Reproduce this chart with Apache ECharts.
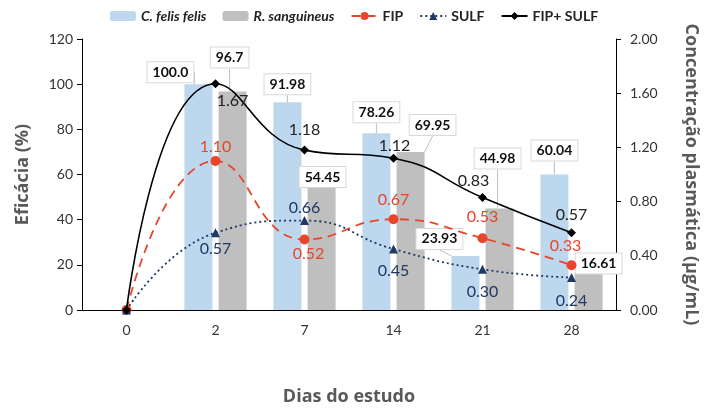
<!DOCTYPE html>
<html>
<head>
<meta charset="utf-8">
<script src="https://cdn.jsdelivr.net/npm/echarts@6/dist/echarts.min.js"></script>
<style>
  html, body { margin: 0; padding: 0; background: #fff; }
  #main { width: 708px; height: 411px; }
</style>
</head>
<body>
<div id="main"></div>
<script>
// data
var days = ["0", "2", "7", "14", "21", "28"];
var felis = [null, 100.0, 91.98, 78.26, 23.93, 60.04];
var sanguineus = [null, 96.7, 54.45, 69.95, 44.98, 16.61];
var fip = [0, 1.10, 0.52, 0.67, 0.53, 0.33];
var sulf = [0, 0.57, 0.66, 0.45, 0.30, 0.24];
var fipSulf = [0, 1.67, 1.18, 1.12, 0.83, 0.57];

// label nudges (dx, dy), layout only
var felisShift = [[0, 0], [-28, 3], [0, -3], [0, -6], [-26, -2], [0, -9]];
var sangShift = [[0, 0], [-3, -19], [1, 5], [22, -12], [-2, -35], [10, 6]];
var fipOff = [null, [0, -14], [4, 14], [0, -19], [0, -21], [-6, -19]];
var sulfOff = [null, [0, 16], [0, -13], [0, 22], [0, 22], [0, 23]];
var sumOff = [null, [17, 17], [0, -20], [1, -12], [-9, -17], [0, -18]];

var FONT = "Lato, 'Open Sans', sans-serif";
var TITLE_FONT = "'Open Sans', sans-serif";
var RED = "#e8452b";
var NAVY = "#1f3864";

function lineData(vals, offs) {
  return vals.map(function (v, i) {
    if (!offs[i]) return { value: v, label: { show: false } };
    return { value: v, label: { offset: offs[i] } };
  });
}

function barLabel() {
  return {
    show: true,
    position: "top",
    distance: 5,
    formatter: function (p) {
      var v = p.value;
      return Number.isInteger(v) ? v.toFixed(1) : String(v);
    },
    fontFamily: FONT,
    fontSize: 14,
    fontWeight: "bold",
    color: "#111",
    backgroundColor: "#fff",
    borderColor: "#d9d9d9",
    borderWidth: 1,
    padding: [3, 5]
  };
}

function lineLabel(color) {
  return {
    show: true,
    position: "inside",
    formatter: function (p) { return p.value.toFixed(2); },
    fontFamily: FONT,
    fontSize: 16,
    color: color
  };
}

var nameStyle = { fontFamily: TITLE_FONT, fontSize: 18, fontWeight: "bold", color: "#595959" };

var chart = echarts.init(document.getElementById("main"));
var option = {
  textStyle: { fontFamily: FONT },
  legend: {
    top: 4,
    left: "center",
    itemWidth: 26,
    itemHeight: 10,
    itemGap: 16,
    textStyle: { fontFamily: FONT, fontSize: 14, fontWeight: "bold", color: "#222" },
    data: [
      { name: "C. felis felis", textStyle: { fontStyle: "italic" } },
      { name: "R. sanguineus", textStyle: { fontStyle: "italic" } },
      "FIP", "SULF", "FIP+ SULF"
    ]
  },
  grid: { left: 82, right: 83, top: 39, bottom: 99 },
  xAxis: {
    type: "category",
    data: days,
    name: "Dias do estudo",
    nameLocation: "middle",
    nameGap: 78,
    nameTextStyle: nameStyle,
    axisLine: { lineStyle: { color: "#000", width: 1 } },
    axisTick: { alignWithLabel: true, length: 5, lineStyle: { color: "#000" } },
    axisLabel: { fontSize: 14, color: "#333", margin: 13 }
  },
  yAxis: [
    {
      type: "value",
      min: 0, max: 120, interval: 20,
      name: "Eficácia (%)",
      nameLocation: "middle",
      nameGap: 50,
      nameTextStyle: nameStyle,
      splitLine: { show: false },
      axisLine: { show: true, lineStyle: { color: "#000" } },
      axisTick: { show: true, length: 5, lineStyle: { color: "#000" } },
      axisLabel: { fontSize: 14, color: "#333", margin: 9 }
    },
    {
      type: "value",
      min: 0, max: 2, interval: 0.4,
      name: "Concentração plasmática (µg/mL)",
      nameLocation: "middle",
      nameGap: 66,
      nameRotate: -90,
      nameTextStyle: nameStyle,
      splitLine: { show: false },
      axisLine: { show: true, lineStyle: { color: "#000" } },
      axisTick: { show: true, length: 5, lineStyle: { color: "#000" } },
      axisLabel: {
        fontSize: 14, color: "#333", margin: 14,
        formatter: function (v) { return v.toFixed(2); }
      }
    }
  ],
  series: [
    {
      name: "C. felis felis",
      type: "bar",
      barWidth: 28,
      barGap: "22%",
      itemStyle: { color: "#bdd7ee" },
      data: felis,
      label: barLabel(),
      labelLine: { show: true, lineStyle: { color: "#bfbfbf", width: 1 } },
      labelLayout: function (p) {
        var s = felisShift[p.dataIndex];
        return { dx: s[0], dy: s[1] };
      },
      z: 2
    },
    {
      name: "R. sanguineus",
      type: "bar",
      barWidth: 28,
      itemStyle: { color: "#bfbfbf" },
      data: sanguineus,
      label: barLabel(),
      labelLine: { show: true, lineStyle: { color: "#bfbfbf", width: 1 } },
      labelLayout: function (p) {
        var s = sangShift[p.dataIndex];
        return { dx: s[0], dy: s[1] };
      },
      z: 2
    },
    {
      name: "FIP",
      type: "line",
      yAxisIndex: 1,
      smooth: 0.5,
      symbol: "circle",
      symbolSize: 10,
      itemStyle: { color: RED },
      lineStyle: { color: RED, width: 1.8, type: [9, 6] },
      label: lineLabel(RED),
      data: lineData(fip, fipOff),
      z: 5
    },
    {
      name: "SULF",
      type: "line",
      yAxisIndex: 1,
      smooth: 0.5,
      symbol: "triangle",
      symbolSize: 9,
      itemStyle: { color: NAVY },
      lineStyle: { color: NAVY, width: 1.8, type: [2, 3] },
      label: lineLabel(NAVY),
      data: lineData(sulf, sulfOff),
      z: 5
    },
    {
      name: "FIP+ SULF",
      type: "line",
      yAxisIndex: 1,
      smooth: 0.5,
      symbol: "diamond",
      symbolSize: 9,
      itemStyle: { color: "#000" },
      lineStyle: { color: "#000", width: 1.6 },
      label: lineLabel("#222"),
      data: lineData(fipSulf, sumOff),
      z: 6
    }
  ]
};
chart.setOption(option);
</script>
</body>
</html>
